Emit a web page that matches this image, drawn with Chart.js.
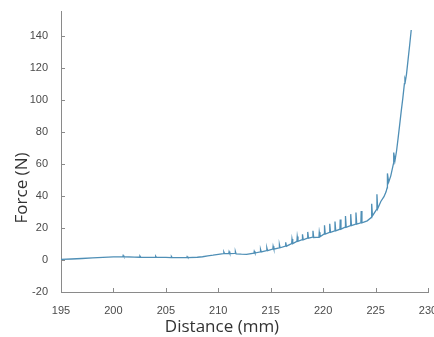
<!DOCTYPE html>
<html>
<head>
<meta charset="utf-8">
<script src="https://cdn.jsdelivr.net/npm/chart.js@4.4.1/dist/chart.umd.min.js"></script>
<style>
  html, body { margin: 0; padding: 0; background: #fff; overflow: hidden; }
  #wrap { width: 452px; height: 337px; }
</style>
</head>
<body>
<div id="wrap"><canvas id="graph"></canvas></div>
<script>
// distance (mm) and force (N)
const distance = [
  195.0, 196.0, 197.0, 198.0, 199.0, 200.0, 200.9, 200.93, 201.0, 202.0, 202.5, 202.53, 202.6,
  203.5, 204.0, 204.03, 204.1, 205.0, 205.5, 205.53, 205.6, 206.5, 207.0, 207.03, 207.1, 208.0,
  208.5, 209.0, 209.5, 210.0, 210.5, 210.53, 210.6, 211.0, 211.03, 211.1, 211.6, 211.63, 211.7,
  212.2, 212.7, 213.4, 213.43, 213.5, 214.0, 214.03, 214.1, 214.6, 214.63, 214.7, 215.2, 215.23,
  215.3, 215.8, 215.83, 215.9, 216.4, 216.43, 216.5, 217.0, 217.03, 217.1, 217.5, 217.53, 217.6,
  218.0, 218.03, 218.1, 218.5, 218.53, 218.6, 219.0, 219.03, 219.1, 219.6, 219.63, 219.7, 220.1,
  220.13, 220.2, 220.6, 220.63, 220.7, 221.1, 221.13, 221.2, 221.6, 221.63, 221.7, 222.1, 222.13,
  222.2, 222.6, 222.63, 222.7, 223.1, 223.13, 223.2, 223.6, 223.63, 223.7, 224.2, 224.6, 224.63,
  224.7, 225.1, 225.13, 225.2, 225.5, 225.8, 226.0, 226.1, 226.13, 226.25, 226.45, 226.7, 226.73,
  226.85, 227.0, 227.15, 227.3, 227.45, 227.6, 227.75, 227.8, 227.85, 227.95, 228.1, 228.25, 228.4
];
const force = [
  0.3, 0.6, 0.9, 1.3, 1.6, 1.9, 2.0, 2.8, 2.0, 1.8, 1.7, 2.4, 1.7,
  1.6, 1.6, 2.3, 1.6, 1.6, 1.5, 2.2, 1.5, 1.4, 1.5, 2.1, 1.5, 1.7,
  2.0, 2.6, 3.0, 3.5, 3.9, 5.0, 3.9, 4.0, 5.2, 4.0, 4.1, 5.3, 3.8,
  3.6, 3.5, 4.2, 5.4, 4.3, 5.0, 6.6, 5.0, 5.8, 7.6, 5.8, 6.8, 8.6,
  6.8, 7.6, 9.6, 7.6, 8.6, 11.0, 8.6, 10.2, 13.0, 10.2, 11.6, 14.6, 11.6,
  12.6, 16.0, 12.6, 13.6, 17.5, 13.6, 14.2, 18.2, 14.0, 14.2, 17.3, 14.4, 16.2,
  21.6, 16.2, 17.2, 22.6, 17.2, 18.2, 24.0, 18.2, 19.2, 25.2, 19.2, 20.4, 27.4,
  20.4, 21.4, 28.6, 21.4, 22.4, 29.6, 22.4, 23.2, 30.6, 23.2, 24.4, 26.5, 35.0,
  27.5, 31.5, 41.0, 32.0, 36.5, 39.5, 42.5, 45.0, 54.0, 48.5, 52.5, 60.0, 67.0,
  62.0, 68.0, 76.0, 84.5, 93.0, 101.0, 110.0, 113.0, 112.0, 116.0, 125.0, 134.0, 143.5
];
const xTicks = [195, 200, 205, 210, 215, 220, 225, 230];
const yTicks = [-20, 0, 20, 40, 60, 80, 100, 120, 140];

const points = distance.map((d, i) => ({ x: d, y: force[i] }));

const axisColor = '#8a8a8a';

// MATLAB-style inward ticks plus the two axis titles
const decor = {
  id: 'decor',
  afterDraw(chart) {
    const ctx = chart.ctx;
    const xs = chart.scales.x, ys = chart.scales.y;
    const area = chart.chartArea;
    ctx.save();
    ctx.strokeStyle = axisColor;
    ctx.lineWidth = 1;
    ctx.beginPath();
    xTicks.forEach(v => {
      const px = Math.round(xs.getPixelForValue(v)) + 0.5;
      ctx.moveTo(px, area.bottom);
      ctx.lineTo(px, area.bottom - 4);
    });
    yTicks.forEach(v => {
      const py = Math.round(ys.getPixelForValue(v)) + 0.5;
      ctx.moveTo(area.left, py);
      ctx.lineTo(area.left + 4, py);
    });
    ctx.stroke();

    ctx.fillStyle = '#333';
    ctx.font = '17px "Open Sans"';
    ctx.textAlign = 'center';
    ctx.textBaseline = 'middle';
    ctx.fillText('Distance (mm)', 222, 327);
    ctx.translate(22, 188);
    ctx.rotate(-Math.PI / 2);
    ctx.fillText('Force (N)', 0, 0);
    ctx.restore();
  }
};

new Chart(document.getElementById('graph'), {
  type: 'scatter',
  data: {
    datasets: [{
      data: points,
      showLine: true,
      borderColor: '#4f8fb6',
      borderWidth: 1.3,
      pointRadius: 0,
      tension: 0
    }]
  },
  options: {
    responsive: true,
    maintainAspectRatio: false,
    animation: false,
    layout: { padding: { top: 10, right: 24, left: 0, bottom: 0 } },
    plugins: { legend: { display: false }, tooltip: { enabled: false } },
    scales: {
      x: {
        type: 'linear',
        min: 195,
        max: 230,
        afterBuildTicks: s => { s.ticks = xTicks.map(v => ({ value: v })); },
        afterFit: s => { s.height = 45; },
        grid: { display: false },
        border: { display: true, color: axisColor, width: 1 },
        ticks: { color: '#4a4a4a', font: { family: 'Liberation Sans', size: 11 }, padding: 4, maxRotation: 0 }
      },
      y: {
        min: -20,
        max: 155,
        afterBuildTicks: s => { s.ticks = yTicks.map(v => ({ value: v })); },
        afterFit: s => { s.width = 61; },
        grid: { display: false },
        border: { display: true, color: axisColor, width: 1 },
        ticks: { color: '#4a4a4a', font: { family: 'Liberation Sans', size: 11 }, padding: 5 }
      }
    }
  },
  plugins: [decor]
});
</script>
</body>
</html>
